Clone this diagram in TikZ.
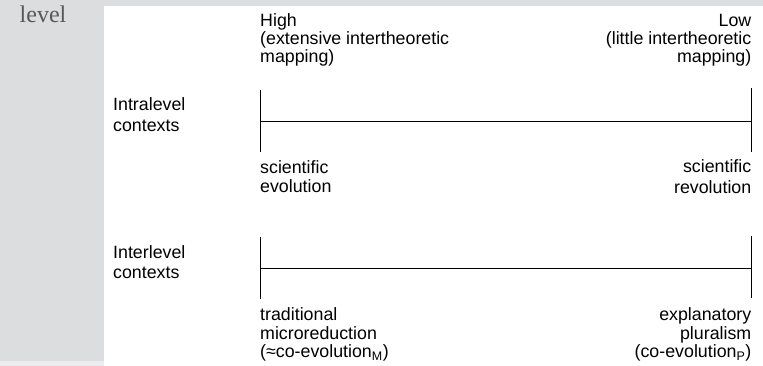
\documentclass[tikz,border=0pt]{standalone}
\usepackage{fontspec}
\setmainfont{Liberation Sans}
\newfontfamily\serifface{Liberation Serif}
\definecolor{pagegrey}{HTML}{DCDDDF}
\definecolor{lightgrey}{HTML}{ECECEE}
\definecolor{inkgrey}{HTML}{585858}
\begin{document}
\begin{tikzpicture}[x=1pt,y=-1pt,
  lbl/.style={inner sep=0pt, font=\fontsize{17.8}{18.3}\selectfont},
  lblL/.style={lbl, anchor=base west, align=left},
  lblR/.style={lbl, anchor=base east, align=right},
  scaleline/.style={line width=1pt, black}]
\useasboundingbox (0,0) rectangle (763,366);
\fill[pagegrey] (0,0) rectangle (763,366);
\fill[lightgrey] (0,361) rectangle (104,366);
\fill[white] (104,6) rectangle (763,366);
\node[inner sep=0pt, anchor=base west, text=inkgrey, font=\serifface\fontsize{24}{26}\selectfont] (lev) at (19.5,23) {level};

\node[lblL] (high) at (260,62.7) {High\\(extensive intertheoretic\\mapping)};
\node[lblR] (low) at (751.5,62.7) {Low\\(little intertheoretic\\mapping)};

\node[lblL, font=\fontsize{17.8}{21}\selectfont] (intra) at (113,131.7) {Intralevel\\contexts};
\node[lblL, font=\fontsize{17.8}{20}\selectfont] (inter) at (113,278.3) {Interlevel\\contexts};

\coordinate (a1t) at (260,90);
\coordinate (a1b) at (260,152);
\coordinate (a1m) at (260,121.5);
\coordinate (a2t) at (751,88);
\coordinate (a2b) at (751,152);
\coordinate (a2m) at (751,121.5);
\draw[scaleline] (a1t) -- (a1b);
\draw[scaleline] (a2t) -- (a2b);
\draw[scaleline] (a1m) -- (a2m);

\coordinate (b1t) at (260,237);
\coordinate (b1b) at (260,299);
\coordinate (b1m) at (260,268.5);
\coordinate (b2t) at (751,236.5);
\coordinate (b2b) at (751,298);
\coordinate (b2m) at (751,268.5);
\draw[scaleline] (b1t) -- (b1b);
\draw[scaleline] (b2t) -- (b2b);
\draw[scaleline] (b1m) -- (b2m);

\node[lblL, font=\fontsize{17.8}{19}\selectfont] (sevo) at (260,192.3) {scientific\\evolution};
\node[lblR, font=\fontsize{17.8}{20.5}\selectfont] (srev) at (751.5,193.3) {scientific\\revolution};

\node[lblL, font=\fontsize{17.8}{18.5}\selectfont] (trad) at (260,357.7) {traditional\\microreduction\\(≈co-evolution\textsubscript{M})};
\node[lblR, font=\fontsize{17.8}{18.5}\selectfont] (expl) at (751.5,357.7) {explanatory\\pluralism\\(co-evolution\textsubscript{P})};
\end{tikzpicture}
\end{document}
